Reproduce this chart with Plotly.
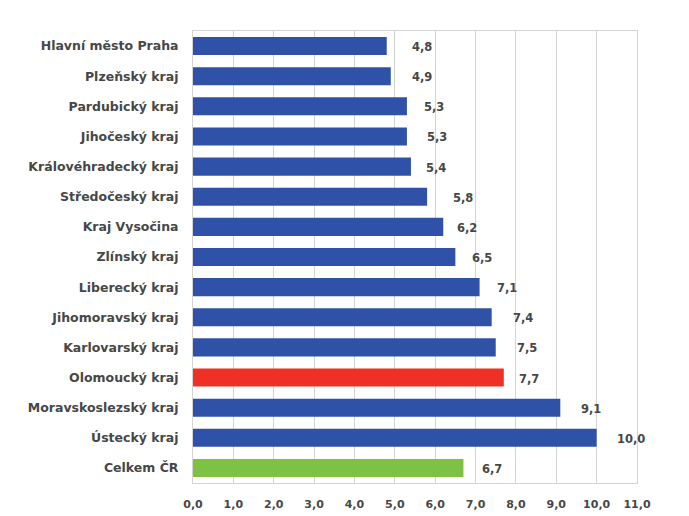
import plotly.graph_objects as go

regions = ["Hlavní město Praha", "Plzeňský kraj", "Pardubický kraj", "Jihočeský kraj",
           "Královéhradecký kraj", "Středočeský kraj", "Kraj Vysočina", "Zlínský kraj",
           "Liberecký kraj", "Jihomoravský kraj", "Karlovarský kraj", "Olomoucký kraj",
           "Moravskoslezský kraj", "Ústecký kraj", "Celkem ČR"]
values = [4.8, 4.9, 5.3, 5.3, 5.4, 5.8, 6.2, 6.5, 7.1, 7.4, 7.5, 7.7, 9.1, 10.0, 6.7]
label_shift = [23, 19, 15, 18, 13, 24, 12, 15, 15, 19, 19, 13, 19, 18, 17]
colors = ["#2f52a8"] * 11 + ["#ee3124", "#2f52a8", "#2f52a8", "#7dc242"]
x_ticks = [0, 1, 2, 3, 4, 5, 6, 7, 8, 9, 10, 11]
x_tick_text = ["0,0", "1,0", "2,0", "3,0", "4,0", "5,0", "6,0", "7,0", "8,0", "9,0", "10,0", "11,0"]

font_family = "DejaVu Sans"
txt_color = "#474747"
fig = go.Figure()
fig.add_trace(go.Bar(
    y=regions, x=values, orientation="h",
    marker=dict(color=colors, line=dict(width=0)),
    width=0.6, hoverinfo="skip",
))

for r, v, s in zip(regions, values, label_shift):
    fig.add_annotation(x=v, y=r, text=f"{v:.1f}".replace(".", ","), showarrow=False,
                       xanchor="left", xshift=s, yshift=-1,
                       font=dict(family=font_family, size=11.5, color=txt_color, weight="bold"))

# the page body has an 8px margin, so the figure is sized to fit inside the window
fig.update_layout(
    width=681, height=508,
    margin=dict(l=185, r=52, t=23, b=33, autoexpand=False),
    paper_bgcolor="white", plot_bgcolor="white",
    showlegend=False,
    font=dict(family=font_family, size=11, color=txt_color),
    xaxis=dict(range=[0, 11], tickvals=x_ticks, ticktext=x_tick_text, automargin=False,
               showgrid=True, gridcolor="#d4d4d4", gridwidth=1,
               zeroline=False, showline=True, linecolor="#d4d4d4", mirror=True,
               ticks="", ticklabelstandoff=11, fixedrange=True,
               tickfont=dict(family=font_family, size=11, color=txt_color, weight="bold")),
    yaxis=dict(autorange="reversed", categoryorder="array", categoryarray=regions, automargin=False,
               showgrid=False, zeroline=False, showline=True, linecolor="#d4d4d4", mirror=True,
               ticks="", ticklabelstandoff=11, fixedrange=True,
               tickfont=dict(family=font_family, size=12.5, color=txt_color, weight="bold")),
)

fig.write_html("out.html")
